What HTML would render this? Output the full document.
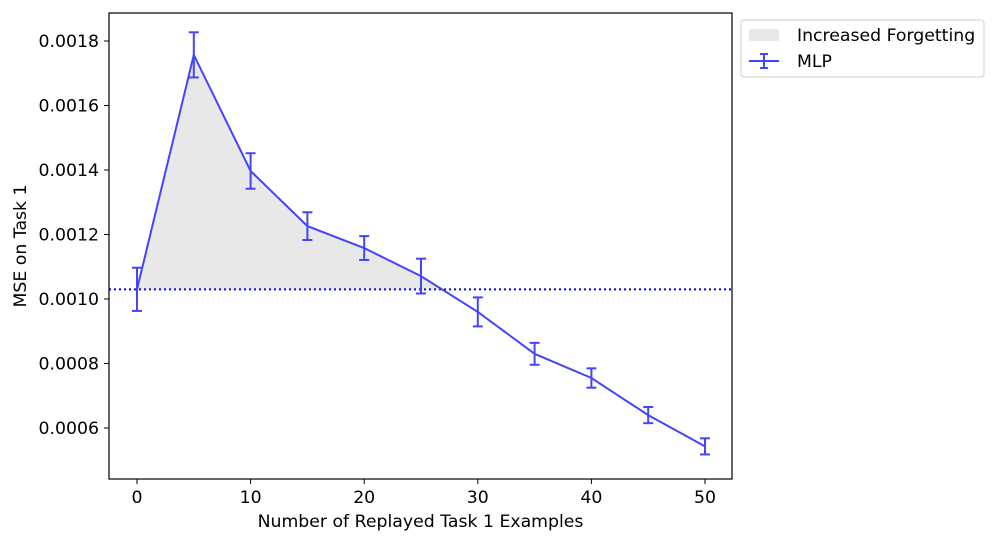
<!DOCTYPE html>
<html><head><meta charset="utf-8"><style>
body{margin:0;background:#fff;}
svg text{font-family:"DejaVu Sans","Liberation Sans",sans-serif;fill:#000;}
</style></head><body>
<svg id="chart" width="997" height="543" xmlns="http://www.w3.org/2000/svg">
<g id="g"></g>
</svg>
<script>
const xs=[0,5,10,15,20,25,30,35,40,45,50];
const ys=[0.00103,0.001757,0.001397,0.001226,0.001158,0.001071,0.00096,0.00083,0.000755,0.00064,0.000543];
const errs=[0.000067,0.00007,0.000055,0.000043,0.000037,0.000054,0.000045,0.000034,0.00003,0.000025,0.000025];
const baseline=0.00103;
const xTicks=[0,10,20,30,40,50];
const yTicks=[0.0006,0.0008,0.0010,0.0012,0.0014,0.0016,0.0018];
const L=109,R=732,T=13,B=479;
const FS=17.3;
const X=v=>137+v*(705-137)/50;
const Y=v=>299-(v-0.001)*322500;
const NS='http://www.w3.org/2000/svg';
const g=document.getElementById('g');
function mk(t,a,p){const e=document.createElementNS(NS,t);for(const k in a)e.setAttribute(k,a[k]);(p||g).appendChild(e);return e;}
let pts=[];
for(let i=0;i<xs.length;i++){
  if(ys[i]>=baseline)pts.push([xs[i],ys[i]]);
  if(i<xs.length-1&&(ys[i]-baseline)*(ys[i+1]-baseline)<0){
    const t=(baseline-ys[i])/(ys[i+1]-ys[i]);pts.push([xs[i]+t*(xs[i+1]-xs[i]),baseline]);}
}
let d='M'+X(pts[0][0])+','+Y(baseline);
pts.forEach(p=>d+=' L'+X(p[0])+','+Y(p[1]));
d+=' L'+X(pts[pts.length-1][0])+','+Y(baseline)+' Z';
let f=mk('path',{d:d,fill:'#e8e8e8',stroke:'none'});


let bl=mk('line',{x1:L,x2:R,y1:Y(baseline),y2:Y(baseline),stroke:'#0000ff','stroke-width':2,'stroke-dasharray':'2,3'});


let ln=mk('polyline',{points:xs.map((x,i)=>X(x)+','+Y(ys[i])).join(' '),fill:'none',stroke:'#4444ff','stroke-width':2});


xs.forEach((x,i)=>{
  const cx=X(x),y1=Y(ys[i]-errs[i]),y2=Y(ys[i]+errs[i]);
  const eg=mk('g',{stroke:'#4444ff','stroke-width':2});
  
  
  mk('line',{x1:cx,x2:cx,y1:y1,y2:y2},eg);
  mk('line',{x1:cx-5,x2:cx+5,y1:y1,y2:y1},eg);
  mk('line',{x1:cx-5,x2:cx+5,y1:y2,y2:y2},eg);
});
let fr=mk('rect',{x:L,y:T,width:R-L,height:B-T,fill:'none',stroke:'#000','stroke-width':1.2});


xTicks.forEach(v=>{
  mk('line',{x1:X(v),x2:X(v),y1:B,y2:B+5,stroke:'#000'});
  const t=mk('text',{x:X(v),y:B+24,'text-anchor':'middle','font-size':FS});t.textContent=v;
  
  
});
yTicks.forEach(v=>{
  mk('line',{x1:L-5,x2:L,y1:Y(v),y2:Y(v),stroke:'#000'});
  const t=mk('text',{x:L-10,y:Y(v)+6,'text-anchor':'end','font-size':FS});t.textContent=v.toFixed(4);
  
  
});
let xt=mk('text',{x:(L+R)/2,y:527,'text-anchor':'middle','font-size':FS});xt.textContent='Number of Replayed Task 1 Examples';


let yt=mk('text',{x:0,y:0,'text-anchor':'middle','font-size':FS,transform:'translate(26,246) rotate(-90)'});yt.textContent='MSE on Task 1';


const lg=mk('g',{});


mk('rect',{x:741,y:20,width:243,height:57,rx:3,fill:'#fff',stroke:'#ccc'},lg);
mk('rect',{x:749,y:29,width:30,height:12,fill:'#e8e8e8'},lg);
let t1=mk('text',{x:797,y:41,'font-size':FS},lg);t1.textContent='Increased Forgetting';
mk('line',{x1:749,x2:779,y1:61,y2:61,stroke:'#4444ff','stroke-width':2},lg);
mk('line',{x1:764,x2:764,y1:54,y2:68,stroke:'#4444ff','stroke-width':2},lg);
mk('line',{x1:760,x2:768,y1:54,y2:54,stroke:'#4444ff','stroke-width':2},lg);
mk('line',{x1:760,x2:768,y1:68,y2:68,stroke:'#4444ff','stroke-width':2},lg);
let t2=mk('text',{x:797,y:67,'font-size':FS},lg);t2.textContent='MLP';
</script>
</body></html>
